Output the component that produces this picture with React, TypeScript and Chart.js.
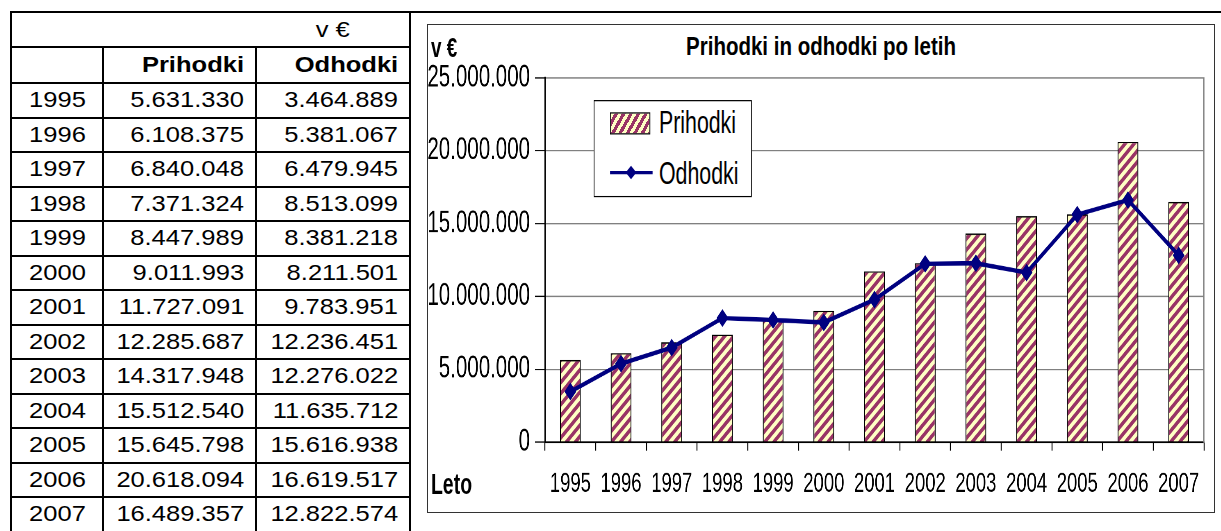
import React, { useEffect, useRef } from 'react';
import { Chart, registerables } from 'chart.js';

Chart.register(...registerables);

// ---- data ----
const years = ['1995', '1996', '1997', '1998', '1999', '2000', '2001', '2002', '2003', '2004', '2005', '2006', '2007'];
const prihodki = [5631330, 6108375, 6840048, 7371324, 8447989, 9011993, 11727091, 12285687, 14317948, 15512540, 15645798, 20618094, 16489357];
const odhodki = [3464889, 5381067, 6479945, 8513099, 8381218, 8211501, 9783951, 12236451, 12276022, 11635712, 15616938, 16619517, 12822574];
const yTickValues = [0, 5000000, 10000000, 15000000, 20000000, 25000000];

const chartTitle = 'Prihodki in odhodki po letih';
const unitLabel = 'v €';
const xAxisLabel = 'Leto';
const seriesNames = ['Prihodki', 'Odhodki'];

// ---- styles ----
const YELLOW = '#FFFFC4';
const MAROON = '#993366';
const NAVY = '#000080';
const SANS = '"Liberation Sans", Arial, Helvetica, sans-serif';
const KY = 1.23; // vertical stretch of the chart
const KX = 0.82; // horizontal compression of the chart (narrow look)

const fmt = (n: number) => String(n).replace(/\B(?=(\d{3})+(?!\d))/g, '.');

function HLine({ y, x1, x2 }: { y: number; x1: number; x2: number }) {
  return <div style={{ position: 'absolute', left: x1 - 1, top: y - 1, width: x2 - x1 + 2, height: 2, background: '#000' }} />;
}
function VLine({ x, y1, y2 }: { x: number; y1: number; y2: number }) {
  return <div style={{ position: 'absolute', left: x - 1, top: y1 - 1, width: 2, height: y2 - y1 + 2, background: '#000' }} />;
}

function Cell({ x1, x2, y, h, text, align, bold }: { x1: number; x2: number; y: number; h: number; text: string; align: 'left' | 'center' | 'right'; bold?: boolean }) {
  const justify = align === 'right' ? 'flex-end' : align === 'center' ? 'center' : 'flex-start';
  return (
    <div
      style={{
        position: 'absolute',
        left: x1 + 1,
        top: y + 1,
        width: x2 - x1 - 2,
        height: h - 2,
        display: 'flex',
        alignItems: 'center',
        justifyContent: justify,
        paddingRight: align === 'right' ? 11 : 0,
        boxSizing: 'border-box',
        fontFamily: SANS,
        fontSize: 22,
        fontWeight: bold ? 'bold' : 'normal',
        color: '#000',
        whiteSpace: 'nowrap',
      }}
    >
      <span style={{ display: 'inline-block', transform: 'scaleX(1.16)', transformOrigin: align === 'right' ? '100% 50%' : '50% 50%' }}>{text}</span>
    </div>
  );
}

// chart layer: screen = 428 + x*KX, 25 + y*KY
const CW = 958;
const CH = 395;
const px = (sx: number) => (sx - 428) / KX;
const py = (sy: number) => (sy - 25) / KY;

export default function App() {
  const canvasRef = useRef<HTMLCanvasElement>(null);

  useEffect(() => {
    const canvas = canvasRef.current!;
    const ctx = canvas.getContext('2d')!;
    const W = 11;
    const H = 9;
    const S = 4;
    const tile = document.createElement('canvas');
    tile.width = W * S;
    tile.height = H * S;
    const t = tile.getContext('2d')!;
    t.scale(S, S);
    t.fillStyle = YELLOW;
    t.fillRect(0, 0, W, H);
    t.strokeStyle = MAROON;
    t.lineWidth = 3.4;
    t.beginPath();
    t.moveTo(-W / 2, H / 2); t.lineTo(W / 2, -H / 2);
    t.moveTo(0, H); t.lineTo(W, 0);
    t.moveTo(W / 2, H * 1.5); t.lineTo(W * 1.5, H / 2);
    t.stroke();
    const pattern = ctx.createPattern(tile, 'repeat')!;
    pattern.setTransform(new DOMMatrix([1 / S, 0, 0, 1 / S, 0, 0]));

    const chart = new Chart(canvas, {
      type: 'bar',
      data: {
        labels: years,
        datasets: [
          {
            type: 'line',
            label: seriesNames[1],
            data: odhodki,
            borderColor: NAVY,
            backgroundColor: NAVY,
            borderWidth: 3.6,
            pointStyle: 'rectRot',
            pointRadius: 6.5,
            pointBackgroundColor: NAVY,
            pointBorderColor: NAVY,
            pointBorderWidth: 1,
            tension: 0,
            order: 0,
          } as any,
          {
            type: 'bar',
            label: seriesNames[0],
            data: prihodki,
            backgroundColor: pattern,
            borderColor: '#000',
            borderWidth: 1.2,
            barPercentage: 0.41,
            categoryPercentage: 1,
            order: 1,
          } as any,
        ],
      },
      options: {
        animation: false,
        responsive: true,
        maintainAspectRatio: false,
        devicePixelRatio: 2,
        layout: { padding: { top: py(78), left: 0, right: 0, bottom: 0 } },
        plugins: {
          legend: { display: false },
          tooltip: { enabled: false },
          title: { display: false },
        },
        scales: {
          x: {
            offset: true,
            grid: { offset: true, drawOnChartArea: false, drawTicks: true, tickLength: 7, tickColor: '#000', tickWidth: 1.2 },
            border: { color: '#000', width: 1.5 },
            ticks: { color: '#000', font: { family: SANS, size: 22.5, lineHeight: 1.2 }, padding: 13.7, maxRotation: 0, autoSkip: false },
            afterFit: (s: any) => { s.height = CH - py(442); },
          },
          y: {
            min: 0,
            max: 25000000,
            afterBuildTicks: (s: any) => { s.ticks = yTickValues.map((v) => ({ value: v })); },
            grid: { color: '#808080', lineWidth: 1.1, tickColor: '#000', tickLength: 12.2, tickWidth: 1 },
            border: { color: '#000', width: 1.8 },
            ticks: { color: '#000', font: { family: SANS, size: 25 }, padding: 6.1, callback: (v: any) => fmt(Number(v)) },
            afterFit: (s: any) => { s.width = px(545); },
          },
          y2: {
            position: 'right',
            display: true,
            grid: { display: false },
            ticks: { display: false },
            border: { display: true, color: '#808080', width: 1.4 },
            afterFit: (s: any) => { s.width = CW - px(1204); },
          },
        },
      } as any,
    });
    return () => chart.destroy();
  }, []);

  // table geometry (line centres)
  const xL = 11, xC1 = 103, xC2 = 256, xR = 410;
  const yTop = 12, yH1 = 47, yH2 = 83, rowH = 34.5;
  const rowLines = years.map((_, i) => yH2 + rowH * (i + 1)).filter((y) => y < 531);

  const lgLeft = px(594);
  const lgTop = py(100);
  const lgW = px(752) - lgLeft;
  const lgH = py(197) - lgTop;
  const lgSymX = px(610) - lgLeft - 1;
  const lgTextX = px(659) - lgLeft - 1;
  const dmx = px(631) - px(610);

  return (
    <div style={{ position: 'absolute', left: 0, top: 0, width: 1221, height: 531, overflow: 'hidden', background: '#fff' }}>
      {/* table */}
      <HLine y={yTop} x1={xL} x2={1221} />
      <HLine y={yH1} x1={xL} x2={xR} />
      <HLine y={yH2} x1={xL} x2={xR} />
      {rowLines.map((y, i) => <HLine key={'r' + i} y={y} x1={xL} x2={xR} />)}
      <VLine x={xL} y1={yTop} y2={540} />
      <VLine x={xC1} y1={yH1} y2={540} />
      <VLine x={xC2} y1={yH1} y2={540} />
      <VLine x={xR} y1={yTop} y2={540} />

      <Cell x1={xC2} x2={xR} y={yTop} h={yH1 - yTop} text={unitLabel} align="center" />
      <Cell x1={xC1} x2={xC2} y={yH1} h={yH2 - yH1} text={seriesNames[0]} align="right" bold />
      <Cell x1={xC2} x2={xR} y={yH1} h={yH2 - yH1} text={seriesNames[1]} align="right" bold />
      {years.map((yr, i) => (
        <React.Fragment key={yr}>
          <Cell x1={xL} x2={xC1} y={yH2 + rowH * i} h={rowH} text={yr} align="center" />
          <Cell x1={xC1} x2={xC2} y={yH2 + rowH * i} h={rowH} text={fmt(prihodki[i])} align="right" />
          <Cell x1={xC2} x2={xR} y={yH2 + rowH * i} h={rowH} text={fmt(odhodki[i])} align="right" />
        </React.Fragment>
      ))}

      {/* chart frame */}
      <div style={{ position: 'absolute', left: 427, top: 24, width: 788, height: 489, border: '1px solid #333', boxSizing: 'border-box' }} />

      {/* chart title */}
      <div style={{ position: 'absolute', left: 427, top: 34.2, width: 788, height: 24, lineHeight: '24px', textAlign: 'center', fontFamily: SANS, fontSize: 20.5, fontWeight: 'bold', color: '#000', whiteSpace: 'nowrap', transform: `scaleY(${KY})`, transformOrigin: '50% 50%' }}>
        {chartTitle}
      </div>

      {/* chart (narrow and stretched like the original) */}
      <div style={{ position: 'absolute', left: 428, top: 25, width: CW, height: CH, transform: `scale(${KX}, ${KY})`, transformOrigin: '0 0' }}>
        <canvas ref={canvasRef} style={{ display: 'block' }} />

        <div style={{ position: 'absolute', left: px(431), top: py(47) - 13, height: 26, lineHeight: '26px', fontFamily: SANS, fontSize: 23, fontWeight: 'bold', color: '#000', whiteSpace: 'nowrap' }}>{unitLabel}</div>
        <div style={{ position: 'absolute', left: px(431), top: py(484) - 13, height: 26, lineHeight: '26px', fontFamily: SANS, fontSize: 23.7, fontWeight: 'bold', color: '#000', whiteSpace: 'nowrap' }}>{xAxisLabel}</div>

        {/* legend */}
        <div style={{ position: 'absolute', left: lgLeft, top: lgTop, width: lgW, height: lgH, border: '1.2px solid #000', background: '#fff', boxSizing: 'border-box' }}>
          <div
            style={{
              position: 'absolute', left: lgSymX, top: py(112) - lgTop - 1, width: px(650) - px(610), height: py(134) - py(112), border: '1.2px solid #000', boxSizing: 'border-box',
              background: `repeating-linear-gradient(130deg, ${YELLOW} 0px, ${YELLOW} 3.4px, ${MAROON} 3.4px, ${MAROON} 6.9px)`,
            }}
          />
          <div style={{ position: 'absolute', left: lgTextX, top: py(122.5) - lgTop - 1 - 15, height: 30, lineHeight: '30px', fontFamily: SANS, fontSize: 26, color: '#000', whiteSpace: 'nowrap' }}>{seriesNames[0]}</div>
          <svg style={{ position: 'absolute', left: lgSymX, top: py(173) - lgTop - 1 - 7 }} width={px(653) - px(610)} height={14}>
            <line x1={0} y1={7} x2={px(653) - px(610)} y2={7} stroke={NAVY} strokeWidth={2.6} />
            <polygon points={`${dmx - 6.5},7 ${dmx},1.5 ${dmx + 6.5},7 ${dmx},12.5`} fill={NAVY} />
          </svg>
          <div style={{ position: 'absolute', left: lgTextX, top: py(172.5) - lgTop - 1 - 15, height: 30, lineHeight: '30px', fontFamily: SANS, fontSize: 26, color: '#000', whiteSpace: 'nowrap' }}>{seriesNames[1]}</div>
        </div>
      </div>
    </div>
  );
}
